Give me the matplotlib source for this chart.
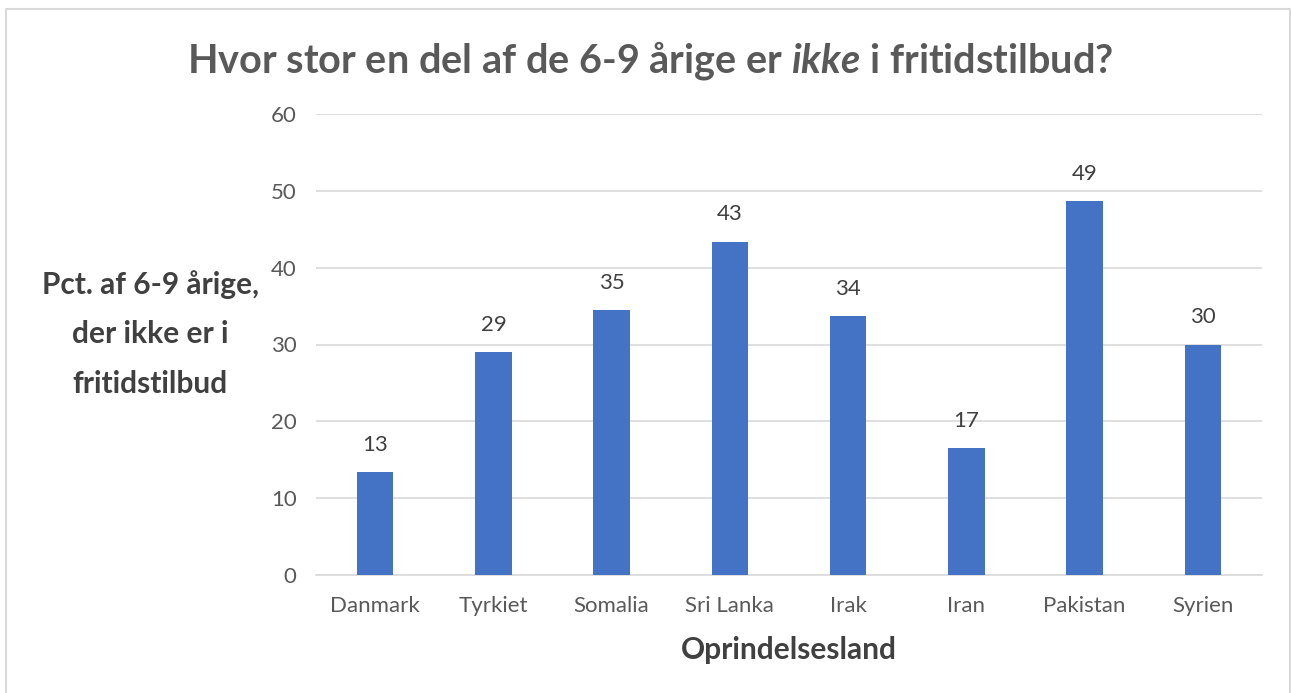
import matplotlib.pyplot as plt

# data
countries = ['Danmark', 'Tyrkiet', 'Somalia', 'Sri Lanka', 'Irak', 'Iran', 'Pakistan', 'Syrien']
values = [13.4, 29.0, 34.5, 43.4, 33.7, 16.5, 48.7, 30.0]
labels = ['13', '29', '35', '43', '34', '17', '49', '30']
yticks = [0, 10, 20, 30, 40, 50, 60]

plt.rcParams['font.family'] = ['Lato', 'DejaVu Sans']
plt.rcParams['mathtext.fontset'] = 'custom'
plt.rcParams['mathtext.it'] = 'Lato:italic:bold'
plt.rcParams['mathtext.rm'] = 'Lato:bold'

W, H = 1291, 693
fig = plt.figure(figsize=(W / 100, H / 100), dpi=100)
ax = fig.add_axes([316 / W, 1 - 575 / H, (1262 - 316) / W, (575 - 114) / H])

x = range(len(countries))
bars = ax.bar(x, values, width=0.31, color='#4472C4', zorder=3)
for b, lab in zip(bars, labels):
    ax.annotate(lab, (b.get_x() + b.get_width() / 2, b.get_height()),
                xytext=(0, 19.5), textcoords='offset points', ha='center', va='center',
                fontsize=16, color='#404040')

ax.set_xlim(-0.5, len(countries) - 0.5)
ax.set_ylim(0, 60)
ax.set_yticks(yticks)
ax.set_xticks(list(x))
ax.set_xticklabels(countries)
ax.tick_params(axis='both', length=0, labelsize=16, labelcolor='#595959')
ax.tick_params(axis='y', pad=14)
ax.tick_params(axis='x', pad=15)
ax.grid(axis='y', color='#D9D9D9', linewidth=1.2, zorder=0)
for s in ['top', 'right', 'left']:
    ax.spines[s].set_visible(False)
ax.spines['bottom'].set_color('#D9D9D9')
ax.spines['bottom'].set_linewidth(1.2)

fig.text(650 / W, 1 - 60 / H, 'Hvor stor en del af de 6-9 årige er $ikke$ i fritidstilbud?',
         ha='center', va='center', fontsize=28.5, fontweight='bold', color='#595959')
fig.text(150 / W, 1 - 334 / H, 'Pct. af 6-9 årige,\nder ikke er i\nfritidstilbud',
         ha='center', va='center', fontsize=21.5, fontweight='bold', color='#404040',
         linespacing=1.95)
fig.text(789 / W, 1 - 650 / H, 'Oprindelsesland', ha='center', va='center',
         fontsize=21.5, fontweight='bold', color='#404040')

# outer chart frame
frame = plt.Rectangle((6 / W, -0.02), (1290 - 6) / W, 1 - 9 / H + 0.02, transform=fig.transFigure,
                      fill=False, edgecolor='#D9D9D9', linewidth=1.5)
fig.add_artist(frame)

fig.savefig('out.png', dpi=100)
